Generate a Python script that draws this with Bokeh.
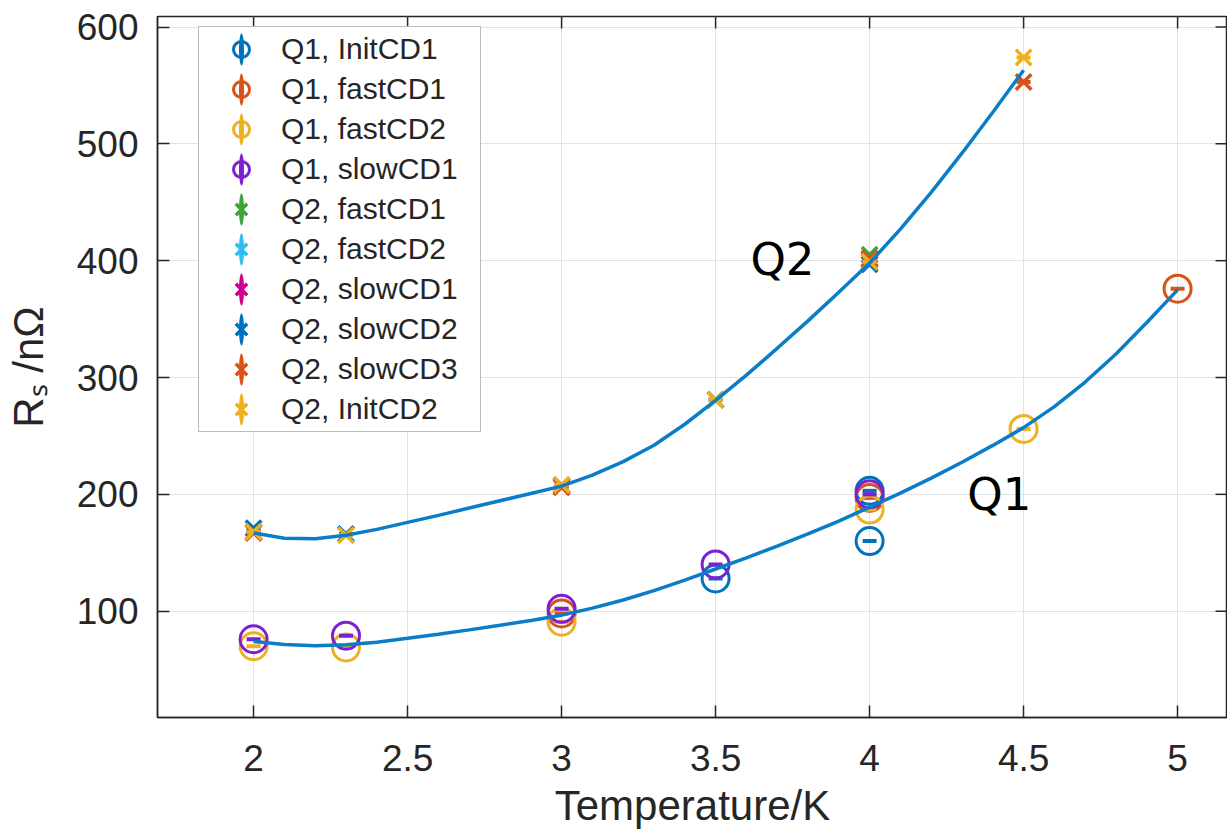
import math
from bokeh.plotting import figure
from bokeh.models import Legend, LegendItem, FixedTicker, Range1d
from bokeh.embed import file_html
from bokeh.resources import INLINE
from bokeh.core.properties import value

# ---------------- data ----------------
x_ticks = [2, 2.5, 3, 3.5, 4, 4.5, 5]
y_ticks = [100, 200, 300, 400, 500, 600]
x_lim = (1.688, 5.162)
y_lim = (9, 609)

q1_initcd1_x = [3.5, 4.0, 4.0]
q1_initcd1_y = [128, 160, 203]
q1_fastcd1_x = [3.0, 4.0, 5.0]
q1_fastcd1_y = [98, 197, 376]
q1_fastcd2_x = [2.0, 2.3, 3.0, 4.0, 4.5]
q1_fastcd2_y = [70, 69, 91, 187, 256]
q1_slowcd1_x = [2.0, 2.3, 3.0, 3.5, 4.0]
q1_slowcd1_y = [76, 79, 102, 140, 200]

q2_fastcd1_x = [3.0, 4.0]
q2_fastcd1_y = [208, 405]
q2_fastcd2_x = [3.5, 4.0]
q2_fastcd2_y = [281, 399]
q2_slowcd1_x = [2.0, 3.0, 4.0]
q2_slowcd1_y = [168, 207, 401]
q2_slowcd2_x = [2.0, 2.3, 3.5, 4.0]
q2_slowcd2_y = [171, 166, 281, 397]
q2_slowcd3_x = [2.0, 3.0, 4.0, 4.5]
q2_slowcd3_y = [167, 206, 402, 553]
q2_initcd2_x = [2.0, 2.3, 3.0, 3.5, 4.0, 4.5]
q2_initcd2_y = [168, 165, 208, 281, 399, 574]

# fitted curves
fit_q1_x = [2.0, 2.1, 2.2, 2.3, 2.4, 2.5, 2.6, 2.7, 2.8, 2.9, 3.0, 3.1, 3.2, 3.3, 3.4,
            3.5, 3.6, 3.7, 3.8, 3.9, 4.0, 4.1, 4.2, 4.3, 4.4, 4.5, 4.6, 4.7, 4.8, 4.9, 5.0]
fit_q1_y = [74, 71.5, 70.5, 71.3, 73.5, 76.8, 80.3, 84, 87.9, 92.1, 96.6, 102.6, 109.6, 117.6,
            126.6, 136.1, 145.6, 155.6, 166.1, 177.1, 189.1, 201.1, 213.9, 227.5, 241.9, 257.1,
            275.1, 296.1, 320.1, 347.1, 375]
fit_q2_x = [2.0, 2.1, 2.2, 2.3, 2.4, 2.5, 2.6, 2.7, 2.8, 2.9, 3.0, 3.1, 3.2, 3.3, 3.4,
            3.5, 3.6, 3.7, 3.8, 3.9, 4.0, 4.1, 4.2, 4.3, 4.4, 4.5]
fit_q2_y = [167, 162.5, 162, 165, 170, 176, 182, 188.3, 194.5, 200.7, 207, 216.5, 228, 242,
            260, 280.5, 302, 325, 348.5, 373, 398, 427, 458.5, 492, 527, 563]

series = [
    ("Q1, InitCD1", q1_initcd1_x, q1_initcd1_y, "#0072BD", "circle"),
    ("Q1, fastCD1", q1_fastcd1_x, q1_fastcd1_y, "#D95319", "circle"),
    ("Q1, fastCD2", q1_fastcd2_x, q1_fastcd2_y, "#EDB120", "circle"),
    ("Q1, slowCD1", q1_slowcd1_x, q1_slowcd1_y, "#7E1FD4", "circle"),
    ("Q2, fastCD1", q2_fastcd1_x, q2_fastcd1_y, "#3FA33A", "x"),
    ("Q2, fastCD2", q2_fastcd2_x, q2_fastcd2_y, "#33BDEE", "x"),
    ("Q2, slowCD1", q2_slowcd1_x, q2_slowcd1_y, "#CF008A", "x"),
    ("Q2, slowCD2", q2_slowcd2_x, q2_slowcd2_y, "#0072BD", "x"),
    ("Q2, slowCD3", q2_slowcd3_x, q2_slowcd3_y, "#D95319", "x"),
    ("Q2, InitCD2", q2_initcd2_x, q2_initcd2_y, "#EDB120", "x"),
]

FIT_COLOR = "#0A7DC8"
AXIS_COLOR = "#262626"
TICK_FONT = "Liberation Sans"
FRAME_W, FRAME_H = 1070, 701
TICK_LEN = 12

p = figure(frame_width=FRAME_W, frame_height=FRAME_H,
           x_range=Range1d(*x_lim), y_range=Range1d(*y_lim),
           output_backend="svg", toolbar_location=None,
           min_border_left=157, min_border_top=16, min_border_right=0, min_border_bottom=10,
           background_fill_color="white", border_fill_color="white")
p.outline_line_color = AXIS_COLOR
p.outline_line_width = 1.5

for ax in (p.xaxis[0], p.yaxis[0]):
    ax.axis_line_color = AXIS_COLOR
    ax.axis_line_width = 1.5
    ax.major_tick_line_color = AXIS_COLOR
    ax.major_tick_line_width = 1.5
    ax.major_tick_in = TICK_LEN
    ax.major_tick_out = 0
    ax.minor_tick_line_color = None
    ax.major_label_text_font = TICK_FONT
    ax.major_label_text_font_size = "37px"
    ax.major_label_text_color = AXIS_COLOR

p.xaxis.ticker = FixedTicker(ticks=x_ticks)
p.yaxis.ticker = FixedTicker(ticks=y_ticks)
p.xaxis.major_label_standoff = 27
p.yaxis.major_label_standoff = 19
p.xaxis.axis_label = "Temperature/K"
p.yaxis.axis_label = "Rₛ /nΩ"
for ax in (p.xaxis[0], p.yaxis[0]):
    ax.axis_label_text_font = TICK_FONT
    ax.axis_label_text_font_size = "42px"
    ax.axis_label_text_font_style = "normal"
    ax.axis_label_text_color = AXIS_COLOR
p.xaxis.axis_label_standoff = 8
p.yaxis.axis_label_standoff = 22

# inward ticks on the top and right edges of the box (derived from the tick lists)
dy_tick = TICK_LEN * (y_lim[1] - y_lim[0]) / FRAME_H
dx_tick = TICK_LEN * (x_lim[1] - x_lim[0]) / FRAME_W
p.segment(x0=x_ticks, y0=[y_lim[1]] * len(x_ticks), x1=x_ticks,
          y1=[y_lim[1] - dy_tick] * len(x_ticks), line_color=AXIS_COLOR, line_width=1.5)
p.segment(x0=[x_lim[1]] * len(y_ticks), y0=y_ticks, x1=[x_lim[1] - dx_tick] * len(y_ticks),
          y1=y_ticks, line_color=AXIS_COLOR, line_width=1.5)

p.xgrid.ticker = FixedTicker(ticks=x_ticks)
p.ygrid.ticker = FixedTicker(ticks=y_ticks)
p.grid.grid_line_color = "#E2E2E2"
p.grid.grid_line_width = 1

items = []
for label, xs, ys, color, marker in series:
    if marker == "circle":
        mr = p.scatter(xs, ys, marker="circle", size=27, fill_color=None,
                       line_color=color, line_width=3)
    else:
        mr = p.scatter(xs, ys, marker="x", size=22, line_color=color, line_width=3.5)
    # error bars (very small): thin vertical stem (shows as the bar in the legend) + caps
    stem = p.ellipse(xs, ys, width=0.64, height=4, width_units="screen", height_units="screen",
                     fill_color=color, line_color=None)
    p.scatter(xs, ys, marker="dash", size=14, line_color=color, line_width=4)
    items.append(LegendItem(label=label, renderers=[stem, mr]))

p.line(fit_q1_x, fit_q1_y, line_color=FIT_COLOR, line_width=3.5)
p.line(fit_q2_x, fit_q2_y, line_color=FIT_COLOR, line_width=3.5)

legend = Legend(items=items, location=(41, 285), orientation="vertical",
                label_text_font=TICK_FONT, label_text_font_size="30px",
                label_text_color=AXIS_COLOR, label_height=40, glyph_height=40,
                glyph_width=80, label_standoff=0, label_width=197, spacing=0,
                padding=2, margin=0, border_line_color="#777777", border_line_width=1.5,
                background_fill_color="white", background_fill_alpha=1)
p.add_layout(legend, "center")

p.text(x=[3.613], y=[401], text=["Q2"], text_font=value("DejaVu Sans"),
       text_font_size="45px", text_baseline="middle", text_align="left", text_color="black")
p.text(x=[4.317], y=[200], text=["Q1"], text_font=value("DejaVu Sans"),
       text_font_size="45px", text_baseline="middle", text_align="left", text_color="black")

open("out.html", "w").write(file_html(p, INLINE))
